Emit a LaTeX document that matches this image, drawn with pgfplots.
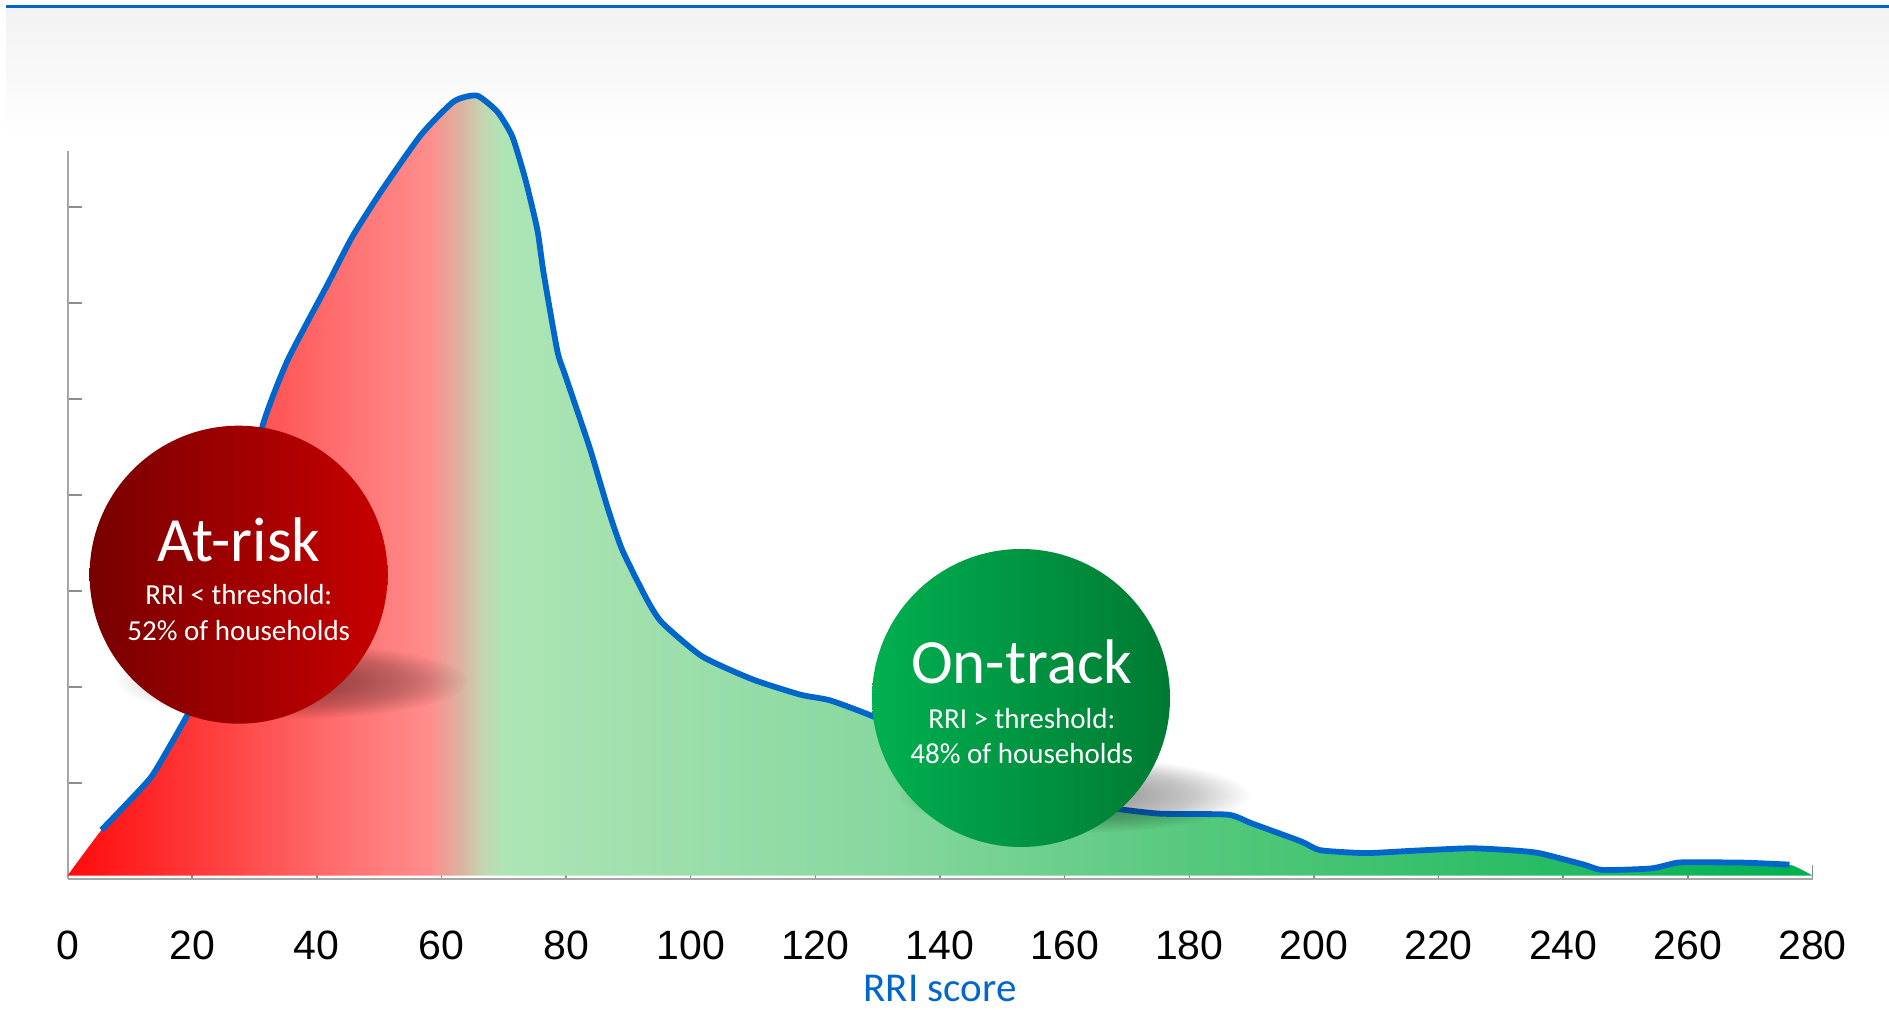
\documentclass[border=0pt]{standalone}
\usepackage{pgfplots}
\pgfplotsset{compat=1.18}
\usepackage{pgfplotstable}
\usepackage{fontspec}
\usetikzlibrary{fadings}
\newfontfamily\calib{Carlito}
\newfontfamily\arialf{Liberation Sans}

\definecolor{rriblue}{HTML}{0066CC}
\definecolor{headgray}{HTML}{F2F2F2}
\definecolor{axisgray}{HTML}{A6A6A6}
\definecolor{tickgray}{HTML}{8C8C8C}
\definecolor{riskdark}{HTML}{780000}
\definecolor{risklight}{HTML}{C80000}
\definecolor{trackdark}{HTML}{007A33}
\definecolor{tracklight}{HTML}{00B050}
% colour stops of the score band, left (low score) to right (high score)
\definecolor{c0}{HTML}{FF0A0A}
\definecolor{c25}{HTML}{FF4242}
\definecolor{c44}{HTML}{FF7070}
\definecolor{c58}{HTML}{FF8C8C}
\definecolor{c63}{HTML}{DDB2A0}
\definecolor{c67}{HTML}{C2D8B2}
\definecolor{c70}{HTML}{ADE5B5}
\definecolor{c130}{HTML}{88D8A0}
\definecolor{c182}{HTML}{55C87C}
\definecolor{c230}{HTML}{2EBD68}
\definecolor{c280}{HTML}{00B050}

% the central 50bp of the shading span the scores 0..280
\pgfdeclarehorizontalshading{scoreband}{100bp}{%
  color(0bp)=(c0); color(25bp)=(c0); color(29.46bp)=(c25);
  color(32.86bp)=(c44); color(35.36bp)=(c58); color(36.25bp)=(c63);
  color(36.96bp)=(c67); color(37.5bp)=(c70); color(48.21bp)=(c130);
  color(57.5bp)=(c182); color(66.07bp)=(c230); color(75bp)=(c280);
  color(100bp)=(c280)}

% soft-edged fading for the bubble shadows
\pgfdeclareradialshading{softshadowshade}{\pgfpointorigin}{%
  color(0bp)=(pgftransparent!0); color(9bp)=(pgftransparent!5);
  color(17bp)=(pgftransparent!40); color(25bp)=(pgftransparent!100);
  color(50bp)=(pgftransparent!100)}
\pgfdeclarefading{softshadow}{\pgfuseshading{softshadowshade}}

% distribution of RRI scores
\pgfplotstableread{
x y
5.45 0.51
9.45 0.78
13.4 1.06
16.2 1.36
19.9 1.79
22.0 2.15
25.0 2.80
28.0 3.70
31.3 4.72
35.3 5.40
41.7 6.19
45.7 6.69
50.4 7.17
56.7 7.75
62.0 8.10
65.7 8.16
69.0 7.99
71.4 7.73
73.5 7.28
75.4 6.76
76.4 6.31
78.6 5.50
79.9 5.24
83.8 4.49
86.7 3.86
89.0 3.43
92.9 2.92
95.4 2.67
101.8 2.32
109.9 2.08
117.6 1.92
122.4 1.86
129.4 1.69
135 1.50
140 1.33
145 1.18
150 1.05
155 0.93
160 0.84
165 0.77
169.6 0.72
175.5 0.68
186.2 0.67
190 0.58
198 0.39
201 0.30
208.3 0.27
216.1 0.295
225.1 0.32
231.5 0.30
236.1 0.27
243.3 0.15
246.3 0.094
254.1 0.11
258.3 0.17
261.9 0.174
269.2 0.17
276.3 0.15
}\rricurve

% same curve, closed down to the base for the filled area
\pgfplotstableread{
x y
0 0.035
5.45 0.51
9.45 0.78
13.4 1.06
16.2 1.36
19.9 1.79
22.0 2.15
25.0 2.80
28.0 3.70
31.3 4.72
35.3 5.40
41.7 6.19
45.7 6.69
50.4 7.17
56.7 7.75
62.0 8.10
65.7 8.16
69.0 7.99
71.4 7.73
73.5 7.28
75.4 6.76
76.4 6.31
78.6 5.50
79.9 5.24
83.8 4.49
86.7 3.86
89.0 3.43
92.9 2.92
95.4 2.67
101.8 2.32
109.9 2.08
117.6 1.92
122.4 1.86
129.4 1.69
135 1.50
140 1.33
145 1.18
150 1.05
155 0.93
160 0.84
165 0.77
169.6 0.72
175.5 0.68
186.2 0.67
190 0.58
198 0.39
201 0.30
208.3 0.27
216.1 0.295
225.1 0.32
231.5 0.30
236.1 0.27
243.3 0.15
246.3 0.094
254.1 0.11
258.3 0.17
261.9 0.174
269.2 0.17
276.3 0.15
280 0.035
}\rriarea

\begin{document}
\begin{tikzpicture}
\useasboundingbox (0,0) rectangle (944.5pt,505pt);

% header band
\shade[top color=headgray, bottom color=white] (3pt,437.5pt) rectangle (944.5pt,501.3pt);
\draw[rriblue, line width=1.5pt] (3pt,501.8pt) -- (944.5pt,501.8pt);

\begin{axis}[
  at={(33.75pt,65.5pt)}, anchor=south west,
  scale only axis, width=872.5pt, height=364pt,
  xmin=0, xmax=280, ymin=0, ymax=7.5833,
  clip=false,
  axis x line*=bottom, axis y line*=left,
  axis line style={draw=axisgray, line width=1pt},
  xtick={0,20,...,280}, ytick={1,2,...,7}, yticklabels={},
  tick align=inside, major tick length=7pt,
  tick style={draw=tickgray, line width=0.75pt},
  /pgf/number format/assume math mode=true,
  xticklabel style={font=\arialf\fontsize{20.5}{24}\selectfont, text=black,
    anchor=base, yshift=-40.15pt},
  xlabel={RRI score},
  xlabel style={font=\calib\fontsize{20.5}{24}\selectfont, text=rriblue,
    at={(axis description cs:0.5,0)}, anchor=base, yshift=-61.5pt},
]
\addplot[draw=none, shade, shading=scoreband, smooth, tension=0.35] table {\rriarea} -- cycle;
\addplot[rriblue, line width=2.9pt, smooth, tension=0.35, line join=round] table {\rricurve};
\end{axis}

% At-risk bubble
\fill[black, opacity=0.36, path fading=softshadow]
  (146pt,164.5pt) ellipse [x radius=88pt, y radius=19pt];
\shade[left color=riskdark, right color=risklight] (119.3pt,217.65pt) circle [radius=74.5pt];
\node[text=white, anchor=base, inner sep=0pt, font=\calib\fontsize{31.5}{36}\selectfont]
  at (119.4pt,224.3pt) {At-risk};
\node[text=white, anchor=base, inner sep=0pt, font=\calib\fontsize{14.5}{17}\selectfont]
  at (119.4pt,202.5pt) {RRI < threshold:};
\node[text=white, anchor=base, inner sep=0pt, font=\calib\fontsize{14.5}{17}\selectfont]
  at (119.4pt,184.8pt) {52\% of households};

% On-track bubble
\fill[black, opacity=0.36, path fading=softshadow]
  (537pt,107.5pt) ellipse [x radius=88pt, y radius=19pt];
\shade[left color=tracklight, right color=trackdark] (510.5pt,156pt) circle [radius=74.5pt];
\node[text=white, anchor=base, inner sep=0pt, font=\calib\fontsize{31.5}{36}\selectfont]
  at (510.9pt,163pt) {On-track};
\node[text=white, anchor=base, inner sep=0pt, font=\calib\fontsize{14.5}{17}\selectfont]
  at (510.9pt,140.5pt) {RRI > threshold:};
\node[text=white, anchor=base, inner sep=0pt, font=\calib\fontsize{14.5}{17}\selectfont]
  at (510.9pt,123.35pt) {48\% of households};
\end{tikzpicture}
\end{document}
